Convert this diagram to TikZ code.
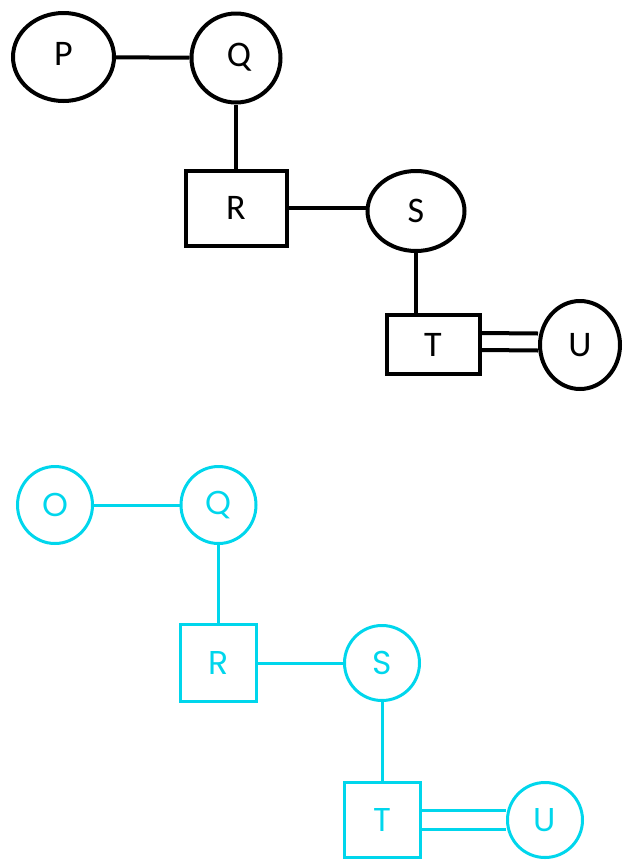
\documentclass[tikz,border=0pt]{standalone}
\usepackage{fontspec}
\newfontfamily\topfont{Carlito}
\newfontfamily\botfont{Poppins}
\usetikzlibrary{shapes}
\definecolor{aqua}{RGB}{0,214,236}

\begin{document}
\begin{tikzpicture}[x=1pt, y=-1pt,
        blk/.style={draw, line width=4pt, inner sep=0pt, font=\topfont\fontsize{36}{40}\selectfont},
        cyn/.style={draw=aqua, text=aqua, line width=3pt, inner sep=0pt, font=\botfont\fontsize{33}{40}\selectfont},
        blkline/.style={line width=4pt},
        cynline/.style={draw=aqua, line width=3pt}]
                \useasboundingbox (0, 0) rectangle (622, 860);

                % upper graph
                \node[blk, ellipse, minimum width=101pt, minimum height=88pt] (AP) at (63.5, 57) {\raisebox{7pt}{P}};
                \node[blk, ellipse, minimum width=89pt, minimum height=89pt] (AQ) at (236, 58) {\raisebox{7pt}{\,Q}};
                \node[blk, rectangle, minimum width=101pt, minimum height=75pt] (AR) at (236, 208) {R};
                \node[blk, ellipse, minimum width=97pt, minimum height=80pt] (AS) at (416, 211) {S};
                \node[blk, rectangle, minimum width=93pt, minimum height=59pt] (AT) at (433, 344.5) {T};
                \node[blk, ellipse, minimum width=80pt, minimum height=88pt] (AU) at (580, 345) {U};

                \draw[blkline] (AP) -- (AQ);
                \draw[blkline] (AQ) -- (AR);
                \draw[blkline] (AR.east) -- (AR -| AS.west);
                \draw[blkline] (AS) -- (AS |- AT.north);
                \draw[blkline] ([yshift=11.5pt]AT.east) -- ([yshift=11.5pt]AU.west);
                \draw[blkline] ([yshift=-5.5pt]AT.east) -- ([yshift=-5.5pt]AU.west);

                % lower graph
                \node[cyn, ellipse, minimum width=75pt, minimum height=77pt] (BO) at (55, 505) {O};
                \node[cyn, ellipse, minimum width=75pt, minimum height=77pt] (BQ) at (218.5, 505) {Q};
                \node[cyn, rectangle, minimum width=76pt, minimum height=77pt] (BR) at (218.5, 663) {R};
                \node[cyn, ellipse, minimum width=75pt, minimum height=75pt] (BS) at (382, 663) {S};
                \node[cyn, rectangle, minimum width=76pt, minimum height=75pt] (BT) at (382, 820) {T};
                \node[cyn, ellipse, minimum width=75pt, minimum height=75pt] (BU) at (545, 820) {U};

                \draw[cynline] (BO) -- (BQ);
                \draw[cynline] (BQ) -- (BR);
                \draw[cynline] (BR) -- (BS);
                \draw[cynline] (BS) -- (BT);
                \draw[cynline] ([yshift=9.5pt]BT.east) -- ([yshift=9.5pt]BU.west);
                \draw[cynline] ([yshift=-9.5pt]BT.east) -- ([yshift=-9.5pt]BU.west);
\end{tikzpicture}
\end{document}
